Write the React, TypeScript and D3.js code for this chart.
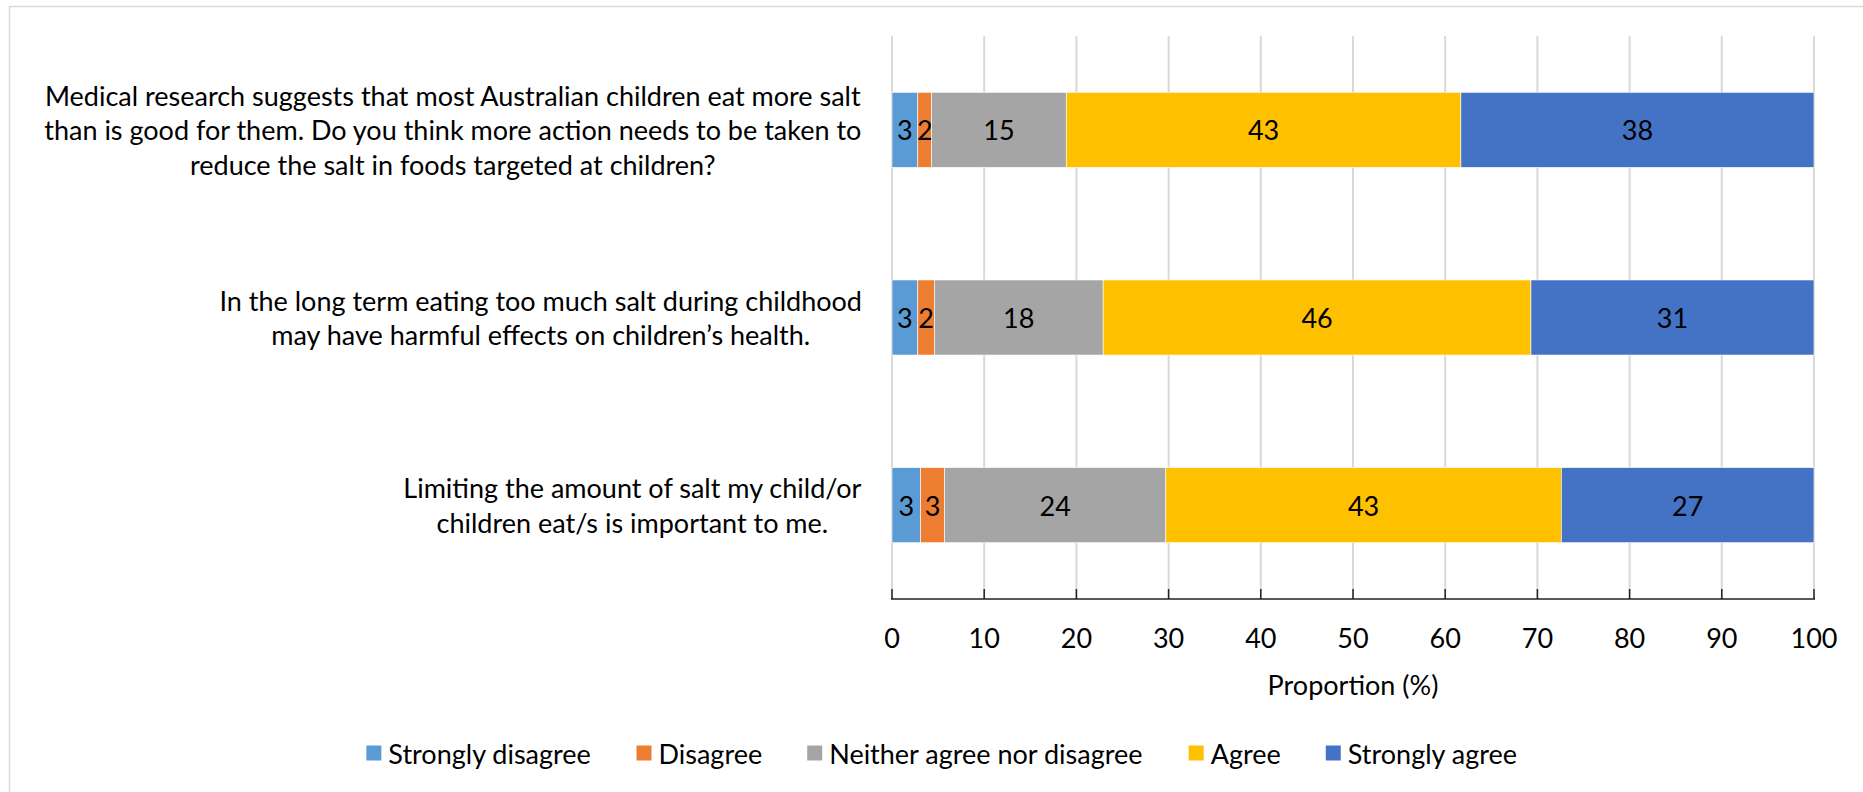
import React from "react";
import * as d3 from "d3";

const categories: string[][] = [
  [
    "Medical research suggests that most Australian children eat more salt",
    "than is good for them. Do you think more action needs to be taken to",
    "reduce the salt in foods targeted at children?",
  ],
  [
    "In the long term eating too much salt during childhood",
    "may have harmful effects on children’s health.",
  ],
  ["Limiting the amount of salt my child/or", "children eat/s is important to me."],
];
const seriesNames = [
  "Strongly disagree",
  "Disagree",
  "Neither agree nor disagree",
  "Agree",
  "Strongly agree",
];
const stronglyDisagree = [2.8, 2.8, 3.1];
const disagree = [1.5, 1.8, 2.6];
const neither = [14.6, 18.3, 24.0];
const agree = [42.8, 46.4, 42.9];
const stronglyAgree = [38.3, 30.7, 27.4];
const xTicks = [0, 10, 20, 30, 40, 50, 60, 70, 80, 90, 100];
const colors = ["#5B9BD5", "#ED7D31", "#A5A5A5", "#FFC000", "#4472C4"];
const xTitle = "Proportion (%)";

const W = 1863;
const H = 792;
const FONT = "Lato, 'Open Sans', sans-serif";
const FS = 27;

let ctx: CanvasRenderingContext2D | null = null;
function measure(t: string, size = FS): number {
  if (!ctx) ctx = document.createElement("canvas").getContext("2d");
  if (!ctx) return t.length * size * 0.5;
  ctx.font = `${size}px Lato`;
  return ctx.measureText(t).width;
}

export default function App() {
  const plot = { left: 892, right: 1814, top: 36, bottom: 599 };
  const x = d3.scaleLinear().domain([0, 100]).range([plot.left, plot.right]);
  const y = d3
    .scaleBand<number>()
    .domain(categories.map((_, i) => i))
    .range([plot.top, plot.bottom])
    .paddingInner(0.6)
    .paddingOuter(0.3);

  const rows = categories.map((_, i) => ({
    i,
    v0: stronglyDisagree[i],
    v1: disagree[i],
    v2: neither[i],
    v3: agree[i],
    v4: stronglyAgree[i],
  }));
  const stack = d3.stack<any>().keys(["v0", "v1", "v2", "v3", "v4"]);
  const series = stack(rows);

  const labelRight = 862;
  const lineH = 34.5;

  // legend layout
  const sq = 15;
  const gapSqText = 7;
  const gapItem = 45;
  const widths = seriesNames.map((s) => measure(s));
  const itemW = widths.map((w) => sq + gapSqText + w);
  const totalW = itemW.reduce((a, b) => a + b, 0) + gapItem * (seriesNames.length - 1);
  const legendCenter = 942;
  let lx = legendCenter - totalW / 2;
  const legendPos = itemW.map((w) => {
    const p = lx;
    lx += w + gapItem;
    return p;
  });
  const legendY = 753;

  return (
    <svg
      width={W}
      height={H}
      style={{ position: "absolute", left: 0, top: 0, background: "#fff" }}
      fontFamily={FONT}
    >
      <rect x={0} y={0} width={W} height={H} fill="#fff" />
      <rect x={9.5} y={6.5} width={W + 20} height={H + 20} fill="none" stroke="#D9D9D9" strokeWidth={1.5} />

      {/* gridlines */}
      {xTicks.map((t) => (
        <line
          key={"g" + t}
          x1={x(t)}
          x2={x(t)}
          y1={plot.top}
          y2={plot.bottom}
          stroke="#D9D9D9"
          strokeWidth={2}
        />
      ))}

      {/* bars */}
      {series.map((s, si) =>
        s.map((d, ci) => {
          const x0 = x(d[0]);
          const x1 = x(d[1]);
          const yy = y(ci) as number;
          const val = (d[1] - d[0]) as number;
          return (
            <g key={`b${si}-${ci}`}>
              <rect
                x={x0}
                y={yy}
                width={x1 - x0}
                height={y.bandwidth()}
                fill={colors[si]}
                stroke="#fff"
                strokeWidth={0.6}
              />
              <text
                x={(x0 + x1) / 2}
                y={yy + y.bandwidth() / 2}
                textAnchor="middle"
                dominantBaseline="central"
                fontSize={FS}
                fill="#000"
              >
                {Math.round(val)}
              </text>
            </g>
          );
        })
      )}

      {/* axis */}
      <line x1={plot.left - 1} x2={plot.right + 1} y1={plot.bottom} y2={plot.bottom} stroke="#222" strokeWidth={1.5} />
      {xTicks.map((t) => (
        <g key={"t" + t}>
          <line x1={x(t)} x2={x(t)} y1={plot.bottom - 10} y2={plot.bottom} stroke="#222" strokeWidth={1.5} />
          <text x={x(t)} y={637} textAnchor="middle" dominantBaseline="central" fontSize={FS} fill="#000">
            {t}
          </text>
        </g>
      ))}
      <text x={(plot.left + plot.right) / 2} y={684} textAnchor="middle" dominantBaseline="central" fontSize={FS} fill="#000">
        {xTitle}
      </text>

      {/* category labels */}
      {categories.map((lines, ci) => {
        const maxW = Math.max(...lines.map((l) => measure(l)));
        const cx = labelRight - maxW / 2;
        const cy = (y(ci) as number) + y.bandwidth() / 2;
        const start = cy - ((lines.length - 1) * lineH) / 2;
        return (
          <g key={"c" + ci}>
            {lines.map((l, li) => (
              <text
                key={li}
                x={cx}
                y={start + li * lineH}
                textAnchor="middle"
                dominantBaseline="central"
                fontSize={FS}
                fill="#000"
              >
                {l}
              </text>
            ))}
          </g>
        );
      })}

      {/* legend */}
      {seriesNames.map((n, i) => (
        <g key={"l" + i}>
          <rect x={legendPos[i]} y={legendY - sq / 2} width={sq} height={sq} fill={colors[i]} />
          <text
            x={legendPos[i] + sq + gapSqText}
            y={legendY}
            dominantBaseline="central"
            fontSize={FS}
            fill="#000"
          >
            {n}
          </text>
        </g>
      ))}
    </svg>
  );
}
